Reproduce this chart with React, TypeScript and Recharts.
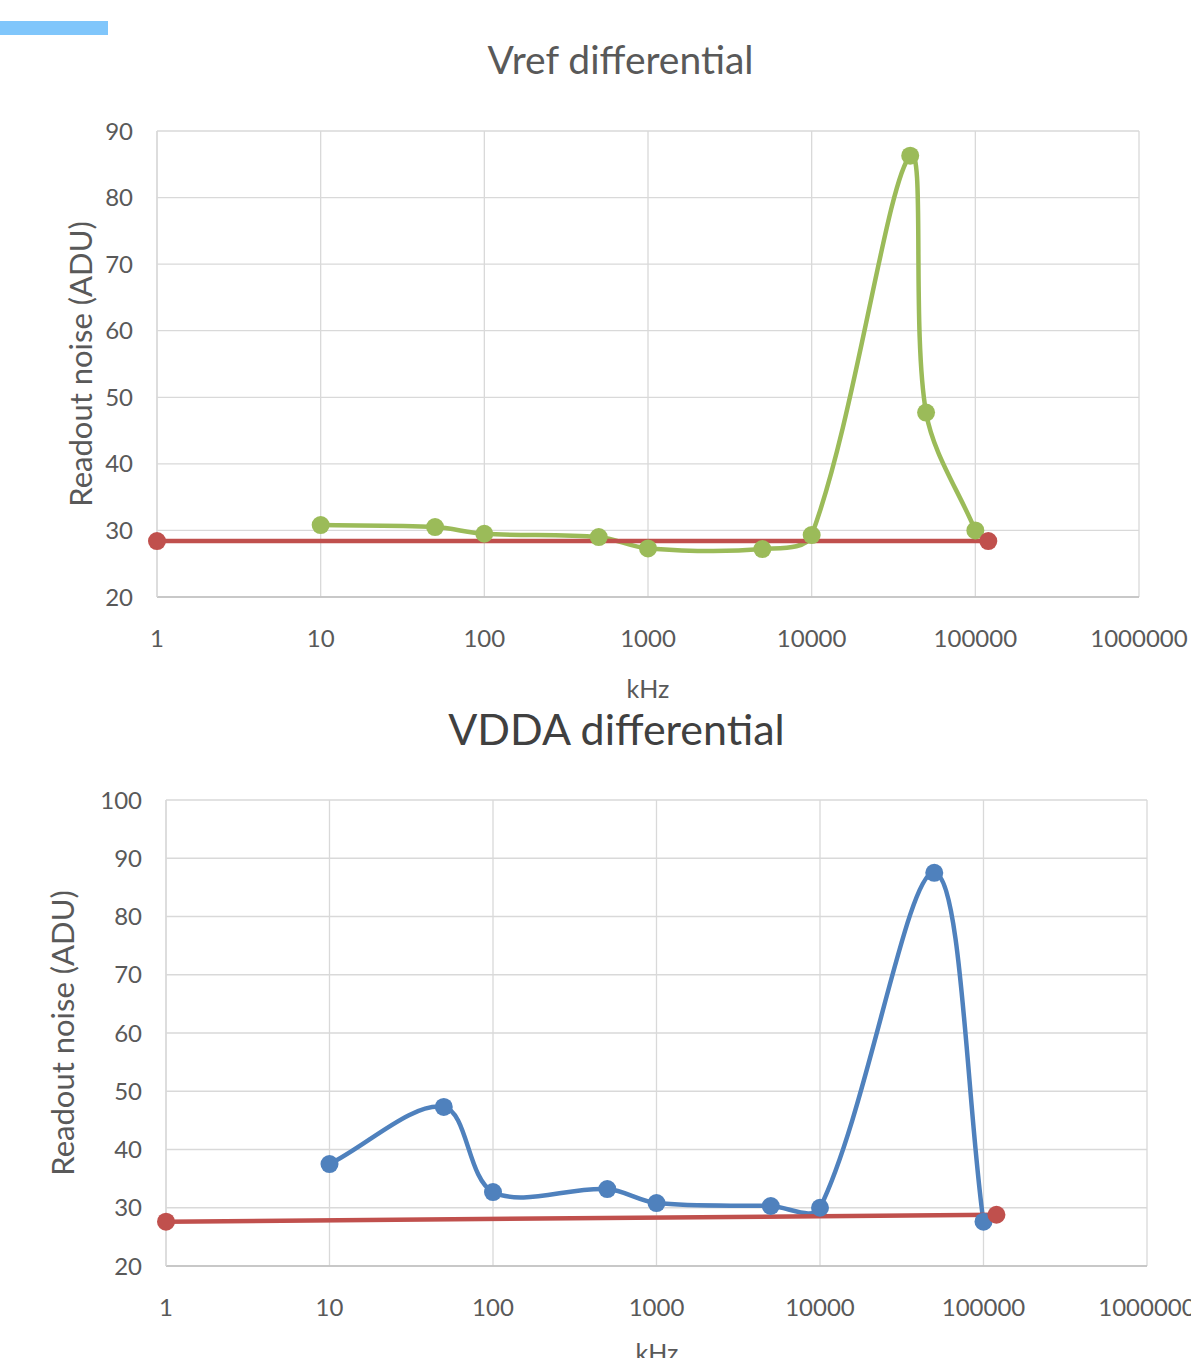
import React from "react";
import { LineChart, Line, XAxis, YAxis, CartesianGrid } from "recharts";

// frequency ticks shared by both plots (kHz, log axis)
const freqTicks = [1, 10, 100, 1000, 10000, 100000, 1000000];

// Vref differential
const vrefFreq = [10, 50, 100, 500, 1000, 5000, 10000, 40000, 50000, 100000];
const vrefNoise = [30.8, 30.5, 29.5, 29.0, 27.3, 27.2, 29.3, 86.3, 47.7, 30.0];
const vrefRefFreq = [1, 120000];
const vrefRefNoise = [28.4, 28.4];
const vrefTicks = [20, 30, 40, 50, 60, 70, 80, 90];

// VDDA differential
const vddaFreq = [10, 50, 100, 500, 1000, 5000, 10000, 50000, 100000];
const vddaNoise = [37.5, 47.3, 32.7, 33.2, 30.8, 30.3, 30.0, 87.5, 27.6];
const vddaRefFreq = [1, 120000];
const vddaRefNoise = [27.6, 28.8];
const vddaTicks = [20, 30, 40, 50, 60, 70, 80, 90, 100];

const toRows = (xs: number[], ys: number[]) => xs.map((f, i) => ({ f, v: ys[i] }));

// Excel-like smoothed line: bezier with chord-length scaled tangents
const excelSmooth = (ctx: any) => {
  let pts: number[][] = [];
  const dist = (a: number[], b: number[]) => Math.hypot(b[0] - a[0], b[1] - a[1]) || 1;
  return {
    areaStart() {},
    areaEnd() {},
    lineStart() {
      pts = [];
    },
    lineEnd() {
      if (!pts.length) return;
      ctx.moveTo(pts[0][0], pts[0][1]);
      for (let i = 0; i < pts.length - 1; i++) {
        const p0 = pts[i - 1] || pts[i];
        const p1 = pts[i];
        const p2 = pts[i + 1];
        const p3 = pts[i + 2] || p2;
        const d01 = i > 0 ? dist(p0, p1) : 0;
        const d12 = dist(p1, p2);
        const d23 = i + 2 < pts.length ? dist(p2, p3) : 0;
        const k1 = d12 / (3 * (d01 + d12));
        const k2 = d12 / (3 * (d12 + d23));
        ctx.bezierCurveTo(
          p1[0] + (p2[0] - p0[0]) * k1,
          p1[1] + (p2[1] - p0[1]) * k1,
          p2[0] - (p3[0] - p1[0]) * k2,
          p2[1] - (p3[1] - p1[1]) * k2,
          p2[0],
          p2[1]
        );
      }
    },
    point(x: number, y: number) {
      pts.push([+x, +y]);
    },
  };
};

const FONT = "Lato, 'Open Sans', sans-serif";
const tickStyle = { fill: "#595959", fontSize: 24, fontFamily: FONT };

function Plot({
  top, height, marginTop, left, right, xAxisH, yTicks, series, refSeries, color,
}: any) {
  return (
    <div style={{ position: "absolute", left: 0, top }}>
      <LineChart
        width={1191}
        height={height}
        margin={{ top: marginTop, right, bottom: 0, left: 0 }}
        style={{ overflow: "visible" }}
      >
        <CartesianGrid stroke="#d9d9d9" strokeWidth={1.3} />
        <XAxis
          type="number"
          dataKey="f"
          scale="log"
          domain={[1, 1000000]}
          ticks={freqTicks}
          height={xAxisH}
          tickLine={false}
          tickSize={0}
          tickMargin={33}
          axisLine={{ stroke: "#bfbfbf", strokeWidth: 1.5 }}
          tick={tickStyle}
          interval={0}
        />
        <YAxis
          type="number"
          domain={[yTicks[0], yTicks[yTicks.length - 1]]}
          ticks={yTicks}
          width={left}
          tickLine={false}
          tickSize={0}
          tickMargin={24}
          axisLine={{ stroke: "#d9d9d9", strokeWidth: 1.3 }}
          tick={tickStyle}
          interval={0}
        />
        <Line
          data={series}
          dataKey="v"
          type={excelSmooth as any}
          stroke={color}
          strokeWidth={4.5}
          dot={{ r: 9, fill: color, stroke: color, strokeWidth: 0 }}
          isAnimationActive={false}
        />
        <Line
          data={refSeries}
          dataKey="v"
          type="linear"
          stroke="#c0504d"
          strokeWidth={4.5}
          dot={{ r: 9, fill: "#c0504d", stroke: "#c0504d", strokeWidth: 0 }}
          isAnimationActive={false}
        />
      </LineChart>
    </div>
  );
}

const text = (extra: any) => ({
  position: "absolute" as const,
  fontFamily: FONT,
  color: "#595959",
  whiteSpace: "nowrap" as const,
  ...extra,
});

export default function App() {
  return (
    <div style={{ position: "absolute", left: 0, top: 0, width: 1191, height: 1358, overflow: "hidden", background: "#fff" }}>
      <div style={{ position: "absolute", left: 0, top: 21, width: 108, height: 14, background: "#80c6fb" }} />

      <Plot
        top={0}
        height={700}
        marginTop={131}
        left={157}
        right={52}
        xAxisH={103}
        yTicks={vrefTicks}
        series={toRows(vrefFreq, vrefNoise)}
        refSeries={toRows(vrefRefFreq, vrefRefNoise)}
        color="#9bbb59"
      />
      <div style={text({ left: 0, width: 1241, top: 36, textAlign: "center", fontSize: 39 })}>Vref differential</div>
      <div style={text({ left: 80, top: 364, fontSize: 31, transform: "translate(-50%, -50%) rotate(-90deg)" })}>
        Readout noise (ADU)
      </div>
      <div style={text({ left: 648, top: 688, fontSize: 25, transform: "translate(-50%, -50%)" })}>kHz</div>

      <Plot
        top={680}
        height={678}
        marginTop={120}
        left={166}
        right={44}
        xAxisH={92}
        yTicks={vddaTicks}
        series={toRows(vddaFreq, vddaNoise)}
        refSeries={toRows(vddaRefFreq, vddaRefNoise)}
        color="#4f81bd"
      />
      <div style={text({ left: 0, width: 1233, top: 703, textAlign: "center", fontSize: 43, color: "#404040" })}>
        VDDA differential
      </div>
      <div style={text({ left: 62, top: 1033, fontSize: 31, transform: "translate(-50%, -50%) rotate(-90deg)" })}>
        Readout noise (ADU)
      </div>
      <div style={text({ left: 657, top: 1352, fontSize: 25, transform: "translate(-50%, -50%)" })}>kHz</div>
    </div>
  );
}
